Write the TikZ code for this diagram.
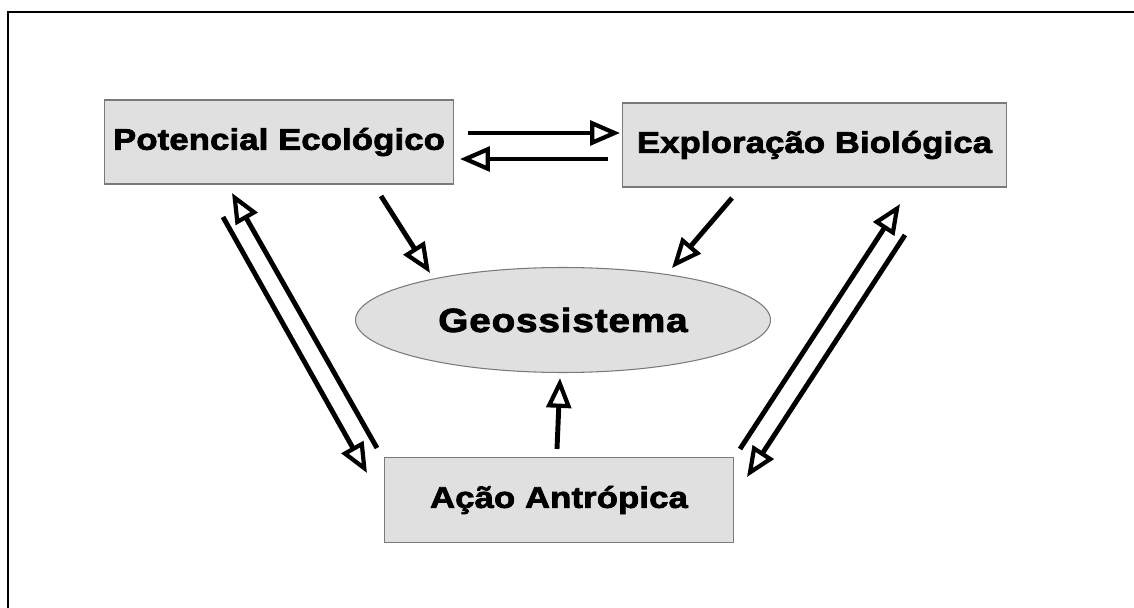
\documentclass[tikz,border=0pt]{standalone}
\usepackage{fontspec}
\setmainfont{Liberation Sans}
\newfontfamily\boxfont[FakeStretch=1.16,FakeBold=2.5,LetterSpace=0.5]{Liberation Sans Bold}
\newfontfamily\geofont[FakeStretch=1.16,FakeBold=2.5,LetterSpace=2.5]{Liberation Sans Bold}
\usetikzlibrary{arrows.meta,shapes.geometric}
\definecolor{boxfill}{HTML}{E0E0E0}
\definecolor{boxdraw}{HTML}{7A7A7A}
\begin{document}
\begin{tikzpicture}[x=0.02cm,y=-0.02cm,
  box/.style={draw=boxdraw,fill=boxfill,line width=0.6pt,inner sep=0pt,
    font=\boxfont\fontsize{17}{19}\selectfont},
  conn/.style={line width=2.8pt,-{Triangle[open,length=17pt,width=14pt,line width=2.4pt]}},
  frame/.style={line width=1pt}]
\useasboundingbox (0,0) rectangle (1134,608);
\draw[frame] (8,608) -- (8,12) -- (1134,12);
\node[box,minimum width=7cm,minimum height=1.68cm] (pe) at (279,142) {Potencial Ecológico};
\node[box,minimum width=7.7cm,minimum height=1.68cm] (eb) at (814.5,145) {Exploração Biológica};
\node[box,ellipse,minimum width=8.3cm,minimum height=2.1cm,font=\geofont\fontsize{19}{21}\selectfont] (geo) at (563,320) {Geossistema};
\node[box,minimum width=7cm,minimum height=1.7cm] (aa) at (559,500) {Ação Antrópica};
% connector end points
\coordinate (pe-r1) at (468,133); \coordinate (eb-l1) at (620,133);
\coordinate (eb-l2) at (608,159); \coordinate (pe-r2) at (460,159);
\coordinate (pe-g1) at (381,196); \coordinate (geo-p) at (430,273);
\coordinate (eb-g1) at (732,198); \coordinate (geo-e) at (672,268);
\coordinate (aa-u) at (377,448); \coordinate (pe-d) at (232,193);
\coordinate (pe-s) at (223,217); \coordinate (aa-l) at (367,473);
\coordinate (aa-r) at (740,449); \coordinate (eb-d) at (900,204);
\coordinate (eb-s) at (905,235); \coordinate (aa-rr) at (747,477);
\coordinate (aa-t) at (557,449); \coordinate (geo-b) at (560,378);
\draw[conn] (pe-r1) -- (eb-l1);
\draw[conn] (eb-l2) -- (pe-r2);
\draw[conn] (pe-g1) -- (geo-p);
\draw[conn] (eb-g1) -- (geo-e);
\draw[conn] (aa-u) -- (pe-d);
\draw[conn] (pe-s) -- (aa-l);
\draw[conn] (aa-r) -- (eb-d);
\draw[conn] (eb-s) -- (aa-rr);
\draw[conn] (aa-t) -- (geo-b);
\end{tikzpicture}
\end{document}
